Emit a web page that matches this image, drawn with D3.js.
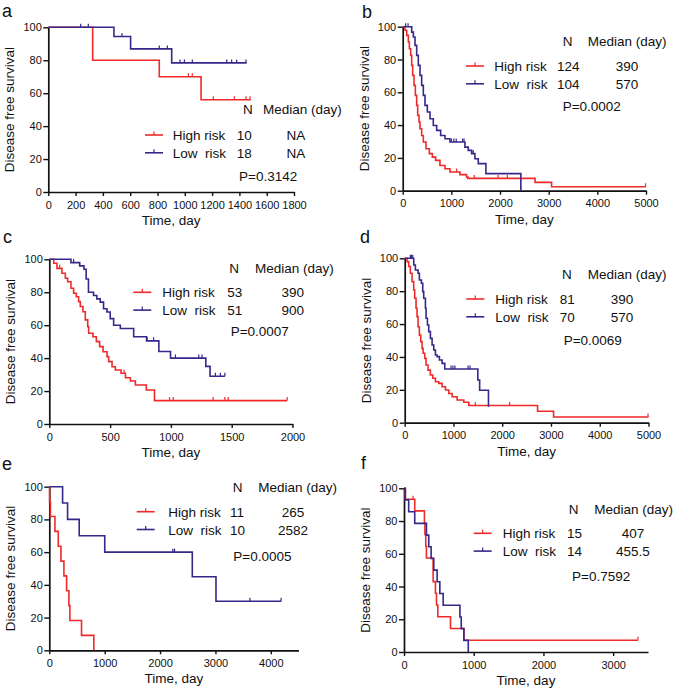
<!DOCTYPE html>
<html>
<head>
<meta charset="utf-8">
<script src="https://cdn.jsdelivr.net/npm/d3@7"></script>
<style>
body { margin: 0; background: #fff; }
svg text { font-family: "Liberation Sans", Arial, sans-serif; fill: #111; }
</style>
</head>
<body>
<div id="chart"></div>
<script>
// --- data: [day, survival %] steps, censor days, end day ---
var aHigh = [[0,100],[325,80],[813,70],[1119,56]];
var aHighCens = [1026,1055,1209,1363,1448,1478];
var aHighEnd = 1483;
var aLow = [[0,100],[481,94.4],[603,86.9],[904,78.4]];
var aLowCens = [237,293,540,813,872,965,997,1055,1307,1343,1380,1448];
var aLowEnd = 1453;

var bHigh = [[0,100],[48,97.8],[82,94.7],[116,90.7],[137,86.6],[164,82.5],[185,76.4],[205,70.3],[233,64.2],[260,58.1],[287,52],[308,45.9],[335,41.9],[356,37.8],[390,33.7],[424,29.7],[479,25.6],[547,22.6],[609,20.5],[677,18.5],[766,15.4],[869,13.4],[971,11.4],[1176,9.8],[1313,8.3],[1340,7.5],[2720,5.1],[3060,2.4]];
var bHighCens = [1110,1470,1960,2150,4990];
var bHighEnd = 5000;
var bLow = [[0,100],[185,96.7],[219,93.7],[253,88.6],[287,82.5],[321,76.4],[356,70.3],[390,64.2],[424,58.1],[458,52],[506,48],[561,43.9],[629,39.8],[698,36.8],[780,33.7],[869,31.7],[971,29.7],[1279,26.6],[1347,24.6],[1416,22.6],[1484,19.5],[1553,16.5],[1710,10.4],[2428,0]];
var bLowCens = [60,110,1000,1050,1100,1230,1260,1420,1450];
var bLowEnd = 2428;

var cHigh = [[0,100],[36,97.6],[63,94.5],[104,91.5],[132,88.5],[151,86.4],[178,82.4],[200,79.4],[222,77.3],[241,74.3],[255,71.3],[277,68.2],[296,63.2],[316,59.1],[324,55.1],[359,53],[387,50],[414,47],[442,43.9],[475,40.9],[488,37.9],[516,34.8],[543,32.8],[590,30.8],[626,28.1],[667,26.1],[708,23.7],[798,20.6],[865,14.2]];
var cHighCens = [85,615,989,1019,1347,1444,1471,1956];
var cHighEnd = 1956;
var cLow = [[0,100],[178,98],[250,96],[285,94],[303,88],[322,80],[364,78],[391,76],[419,74],[446,70],[474,68],[501,64],[529,60],[584,58],[694,53],[800,50.5],[901,44],[997,40],[1287,35],[1322,29]];
var cLowCens = [200,804,858,1037,1229,1256,1366,1407,1444];
var cLowEnd = 1444;

var dHigh = [[0,100],[48,98],[82,95],[116,90.9],[151,85.8],[185,80.7],[205,75.7],[233,69.6],[253,64.5],[274,58.4],[301,53.3],[329,49.3],[356,45.2],[377,42.2],[411,39.1],[438,35.1],[479,32],[527,29],[575,27],[630,24.9],[699,23.9],[767,21.9],[836,19.9],[904,17.8],[973,15.8],[1075,13.8],[1212,12.4],[1315,10.5],[2725,7],[3053,3.5]];
var dHighCens = [1448,2152,4990];
var dHighEnd = 5000;
var dLow = [[0,100],[185,95.9],[219,92.9],[274,90.9],[301,86.8],[342,84.8],[370,79.7],[390,75.7],[425,69.6],[438,63.5],[466,59.4],[493,55.4],[527,51.3],[562,47.3],[596,44.2],[630,41.2],[664,40.2],[712,38.1],[767,36.1],[822,32.7],[1500,26],[1537,19.7],[1718,9.7]];
var dLowCens = [116,140,165,950,990,1030,1300,1340];
var dLowEnd = 1718;

var eHigh = [[0,100],[5,90.9],[20,81.8],[102,72.7],[162,63.6],[210,54.5],[264,45.5],[312,36.4],[354,27.3],[372,18.2],[582,9.1],[804,0]];
var eHighCens = [];
var eHighEnd = 804;
var eLow = [[0,100],[240,90],[330,80],[540,70],[1001,60],[2582,45],[3010,30]];
var eLowCens = [2231,2261,3622,4186];
var eLowEnd = 4186;

var fHigh = [[0,100],[19,93.3],[154,86.2],[293,79],[300,71.8],[312,64.6],[322,57.4],[418,43],[451,35.9],[466,28.7],[485,21.5],[667,14.4],[859,7.2]];
var fHighCens = [130,3356];
var fHighEnd = 3356;
var fLow = [[0,100],[19,92.9],[67,85.7],[154,78.6],[322,71.4],[355,64.3],[389,57.1],[427,50],[475,42.9],[514,35.7],[562,28.6],[802,21.4],[821,14.3],[859,7.1],[922,0]];
var fLowCens = [];
var fLowEnd = 922;

// tick labels
var yTicks = [0,20,40,60,80,100];
var aTicks = [0,200,400,600,800,1000,1200,1400,1600,1800];
var bTicks = [0,1000,2000,3000,4000,5000];
var cTicks = [0,500,1000,1500,2000];
var dTicks = [0,1000,2000,3000,4000,5000];
var eTicks = [0,1000,2000,3000,4000];
var fTicks = [0,1000,2000,3000];

// legend values
var groups = ["High risk", "Low  risk"];
var aN = ["10","18"], aMed = ["NA","NA"], aP = "P=0.3142";
var bN = ["124","104"], bMed = ["390","570"], bP = "P=0.0002";
var cN = ["53","51"], cMed = ["390","900"], cP = "P=0.0007";
var dN = ["81","70"], dMed = ["390","570"], dP = "P=0.0069";
var eN = ["11","10"], eMed = ["265","2582"], eP = "P=0.0005";
var fN = ["15","14"], fMed = ["407","455.5"], fP = "P=0.7592";

var red = "#ee2a2a";
var blue = "#35288a";

// panel layout (pixels)
var panels = [
  {tag:"a", tagX:2, tagY:17, xMax:1800, ticks:aTicks, x0:48.3, x1:294, yTop:27.3, yBot:192,
   high:aHigh, highCens:aHighCens, highEnd:aHighEnd, low:aLow, lowCens:aLowCens, lowEnd:aLowEnd,
   N:aN, med:aMed, P:aP, hdrY:109, nX:243, mX:263, row1:135, lineX:145, labX:172.7, nValX:236.7, medX:296, pX:239, pY:176},
  {tag:"b", tagX:362, tagY:18, xMax:5000, ticks:bTicks, x0:402.7, x1:646, yTop:26.7, yBot:190.7,
   high:bHigh, highCens:bHighCens, highEnd:bHighEnd, low:bLow, lowCens:bLowCens, lowEnd:bLowEnd,
   N:bN, med:bMed, P:bP, hdrY:40.7, nX:562.7, mX:587.7, row1:66, lineX:466, labX:494.3, nValX:557, medX:627, pX:562.7, pY:106},
  {tag:"c", tagX:3, tagY:243, xMax:2000, ticks:cTicks, x0:49.3, x1:292.5, yTop:259.3, yBot:424,
   high:cHigh, highCens:cHighCens, highEnd:cHighEnd, low:cLow, lowCens:cLowCens, lowEnd:cLowEnd,
   N:cN, med:cMed, P:cP, hdrY:267.7, nX:229.3, mX:255, row1:292.3, lineX:133.3, labX:162.3, nValX:227.3, medX:292.7, pX:230.7, pY:331},
  {tag:"d", tagX:360, tagY:243, xMax:5000, ticks:dTicks, x0:404.7, x1:648.5, yTop:258.3, yBot:422.7,
   high:dHigh, highCens:dHighCens, highEnd:dHighEnd, low:dLow, lowCens:dLowCens, lowEnd:dLowEnd,
   N:dN, med:dMed, P:dP, hdrY:274.3, nX:562, mX:587.7, row1:299, lineX:466.3, labX:495.3, nValX:559.7, medX:622, pX:563.7, pY:340},
  {tag:"e", tagX:2, tagY:470, xMax:4500, ticks:eTicks, x0:49.3, x1:298.5, yTop:486.7, yBot:650.3,
   high:eHigh, highCens:eHighCens, highEnd:eHighEnd, low:eLow, lowCens:eLowCens, lowEnd:eLowEnd,
   N:eN, med:eMed, P:eP, hdrY:487.3, nX:232.7, mX:258.3, row1:511.7, lineX:136.7, labX:168.3, nValX:230, medX:293, pX:233.3, pY:556},
  {tag:"f", tagX:361, tagY:469, xMax:3500, ticks:fTicks, x0:404, x1:648, yTop:488.3, yBot:652,
   high:fHigh, highCens:fHighCens, highEnd:fHighEnd, low:fLow, lowCens:fLowCens, lowEnd:fLowEnd,
   N:fN, med:fMed, P:fP, hdrY:509.3, nX:568.7, mX:594.3, row1:533.3, lineX:473.7, labX:502.7, nValX:567, medX:633, pX:572, pY:576}
];

var svg = d3.select("#chart").append("svg")
    .attr("width", 675)
    .attr("height", 693);

function survAt(steps, t) {
    var s = steps[0][1];
    steps.forEach(function(d) { if (d[0] <= t) s = d[1]; });
    return s;
}

function drawCurve(g, x, y, steps, cens, end, color) {
    var pts = steps.slice();
    var last = steps[steps.length - 1];
    if (end > last[0]) pts.push([end, last[1]]);
    var line = d3.line()
        .x(function(d) { return x(d[0]); })
        .y(function(d) { return y(d[1]); })
        .curve(d3.curveStepAfter);
    g.append("path")
        .attr("d", line(pts))
        .attr("fill", "none")
        .attr("stroke", color)
        .attr("stroke-width", 1.6);
    // censor marks
    g.selectAll(null).data(cens).enter().append("line")
        .attr("x1", function(d) { return x(d); })
        .attr("x2", function(d) { return x(d); })
        .attr("y1", function(d) { return y(survAt(steps, d)); })
        .attr("y2", function(d) { return y(survAt(steps, d)) - 3.5; })
        .attr("stroke", color)
        .attr("stroke-width", 1.2);
}

function drawPanel(p) {
    var x = d3.scaleLinear().domain([0, p.xMax]).range([p.x0, p.x1]);
    var y = d3.scaleLinear().domain([0, 100]).range([p.yBot, p.yTop]);
    var g = svg.append("g");

    var xa = g.append("g")
        .attr("transform", "translate(0," + p.yBot + ")")
        .call(d3.axisBottom(x).tickValues(p.ticks).tickFormat(d3.format("d"))
            .tickSize(4).tickSizeOuter(0).tickPadding(5));
    var ya = g.append("g")
        .attr("transform", "translate(" + p.x0 + ",0)")
        .call(d3.axisLeft(y).tickValues(yTicks).tickFormat(d3.format("d"))
            .tickSize(5).tickSizeOuter(0).tickPadding(1.5));
    [xa, ya].forEach(function(a) {
        a.attr("font-family", null).attr("font-size", null);
        a.select(".domain").attr("stroke", "#111").attr("stroke-width", 1.7);
        a.selectAll(".tick line").attr("stroke", "#111").attr("stroke-width", 1.4);
        a.selectAll(".tick text").style("font-size", "11px").attr("fill", "#111");
    });

    // titles
    g.append("text").attr("x", p.tagX).attr("y", p.tagY)
        .style("font-size", "18px").text(p.tag);
    g.append("text")
        .attr("transform", "translate(" + (p.x0 - 34) + "," + ((p.yTop + p.yBot) / 2) + ") rotate(-90)")
        .attr("text-anchor", "middle")
        .style("font-size", "13.5px")
        .text("Disease free survival");
    g.append("text")
        .attr("x", (p.x0 + p.x1) / 2).attr("y", p.yBot + 33)
        .attr("text-anchor", "middle")
        .style("font-size", "13.5px")
        .text("Time, day");

    drawCurve(g, x, y, p.high, p.highCens, p.highEnd, red);
    drawCurve(g, x, y, p.low, p.lowCens, p.lowEnd, blue);

    // legend
    var fs = "13.5px";
    g.append("text").attr("x", p.nX).attr("y", p.hdrY + 5).style("font-size", fs).text("N");
    g.append("text").attr("x", p.mX).attr("y", p.hdrY + 5).style("font-size", fs).text("Median (day)");
    [red, blue].forEach(function(c, i) {
        var ry = p.row1 + i * 17.8;
        g.append("line").attr("x1", p.lineX).attr("x2", p.lineX + 18)
            .attr("y1", ry).attr("y2", ry).attr("stroke", c).attr("stroke-width", 1.6);
        g.append("line").attr("x1", p.lineX + 9).attr("x2", p.lineX + 9)
            .attr("y1", ry).attr("y2", ry - 3.5).attr("stroke", c).attr("stroke-width", 1.2);
        g.append("text").attr("x", p.labX).attr("y", ry + 5)
            .attr("xml:space", "preserve").style("white-space", "pre")
            .style("font-size", fs).text(groups[i]);
        g.append("text").attr("x", p.nValX).attr("y", ry + 5).style("font-size", fs).text(p.N[i]);
        g.append("text").attr("x", p.medX).attr("y", ry + 5).attr("text-anchor", "middle")
            .style("font-size", fs).text(p.med[i]);
    });
    g.append("text").attr("x", p.pX).attr("y", p.pY + 5).style("font-size", fs).text(p.P);
}

panels.forEach(drawPanel);
</script>
</body>
</html>
